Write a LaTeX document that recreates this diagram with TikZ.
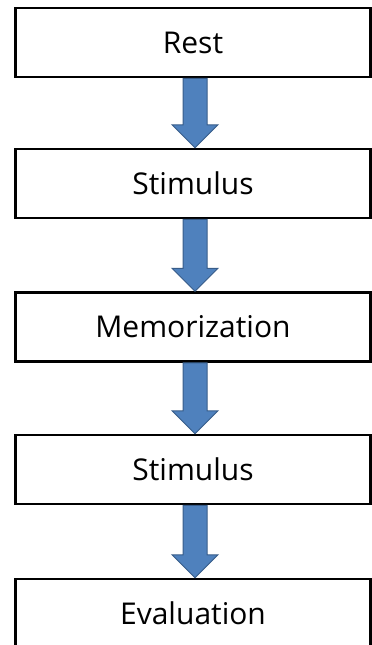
\documentclass[tikz,border=0pt]{standalone}
\usepackage{fontspec}
\setmainfont{Open Sans}
\usetikzlibrary{calc}
\definecolor{arrowfill}{RGB}{79,129,189}
\definecolor{arrowline}{RGB}{56,93,138}
\tikzset{
	stage/.style={
		draw,
		line width=2.5pt,
		minimum width=355pt,
		minimum height=69pt,
		inner sep=0pt,
		font=\fontsize{30}{36}\selectfont
	},
	blk/.style={
		fill=arrowfill,
		draw=arrowline,
		line width=1pt,
		line join=miter
	}
}

\begin{document}
\begin{tikzpicture}[x=1pt, y=-1pt]
\useasboundingbox (0,0) rectangle (372,645);
\node[stage] (rest) at (193, 42.5) {Rest};
\node[stage] (stima) at (193, 183.5) {Stimulus};
\node[stage] (memo) at (193, 327) {Memorization};
\node[stage] (stimb) at (193, 469.5) {Stimulus};
\node[stage] (eval) at (193, 613.5) {Evaluation};

\foreach \a/\b in {rest/stima, stima/memo, memo/stimb, stimb/eval} {
	\draw[blk] let \p1=(\a.south), \p2=(\b.north) in
		(\x1-10pt, \y1) -- (\x1+14pt, \y1) -- (\x1+14pt, \y2+23pt)
		-- (\x1+25pt, \y2+23pt) -- (\x1+2pt, \y2) -- (\x1-21pt, \y2+23pt)
		-- (\x1-10pt, \y2+23pt) -- cycle;
}
\end{tikzpicture}
\end{document}
